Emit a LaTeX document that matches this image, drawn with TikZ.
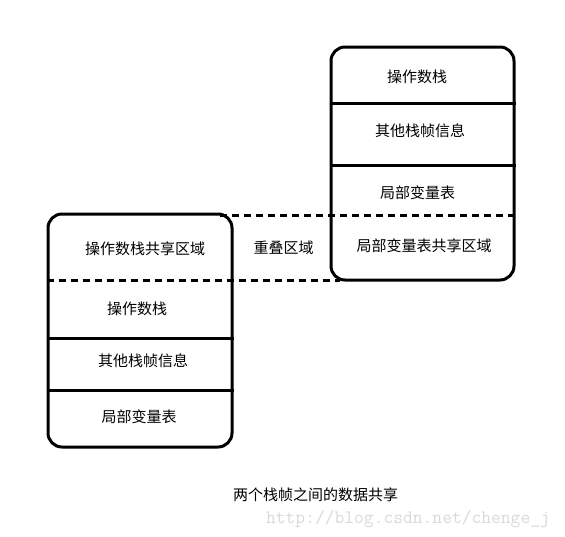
\documentclass[tikz,border=0pt]{standalone}
\usepackage{fontspec}
\newfontfamily\cjk{Noto Sans CJK SC}
\begin{document}
\begin{tikzpicture}[x=1pt,y=-1pt,
  frame/.style={draw, line width=3pt, rounded corners=14pt, inner sep=0pt},
  divider/.style={line width=3pt},
  overlap/.style={line width=3pt, dash pattern=on 7pt off 5pt},
  lbl/.style={font=\cjk\fontsize{15}{18}\selectfont, inner sep=0pt}]
\useasboundingbox (0,0) rectangle (565,536);
% boxes
\node[frame, minimum width=183pt, minimum height=233pt] (R) at (422.5,163.5) {};
\node[frame, minimum width=184pt, minimum height=233pt] (L) at (140,330.5) {};
% right dividers
\coordinate (r1) at (0,103);
\coordinate (r2) at (0,165);
\draw[divider] (R.west |- r1) -- (R.east |- r1);
\draw[divider] (R.west |- r2) -- (R.east |- r2);
% left dividers
\coordinate (l1) at (0,338);
\coordinate (l2) at (0,390);
\draw[divider] (L.west |- l1) -- (L.east |- l1);
\draw[divider] (L.west |- l2) -- (L.east |- l2);
% dashed overlap lines
\coordinate (d1a) at (220,215);
\coordinate (d2b) at (340,280);
\draw[overlap] (d1a) -- (R.east |- d1a);
\draw[overlap] (L.west |- d2b) -- (d2b);
% right texts
\node[lbl] (ra) at (417,77) {操作数栈};
\node[lbl] (rb) at (420,131) {其他栈帧信息};
\node[lbl] (rc) at (417.5,193) {局部变量表};
\node[lbl] (rd) at (424,245.5) {局部变量表共享区域};
% left texts
\node[lbl] (la) at (145,248.5) {操作数栈共享区域};
\node[lbl] (lb) at (137,308.5) {操作数栈};
\node[lbl] (lc) at (143,360.5) {其他栈帧信息};
\node[lbl] (ld) at (139,417) {局部变量表};
\node[lbl] (ov) at (283.5,248) {重叠区域};
% caption
\node[lbl] (cap) at (315.5,495) {两个栈帧之间的数据共享};
\node[font=\ttfamily\fontsize{19}{21}\selectfont, text=black!15, inner sep=0pt] (wm) at (408,519) {http://blog.csdn.net/chenge\_j};
\end{tikzpicture}
\end{document}
